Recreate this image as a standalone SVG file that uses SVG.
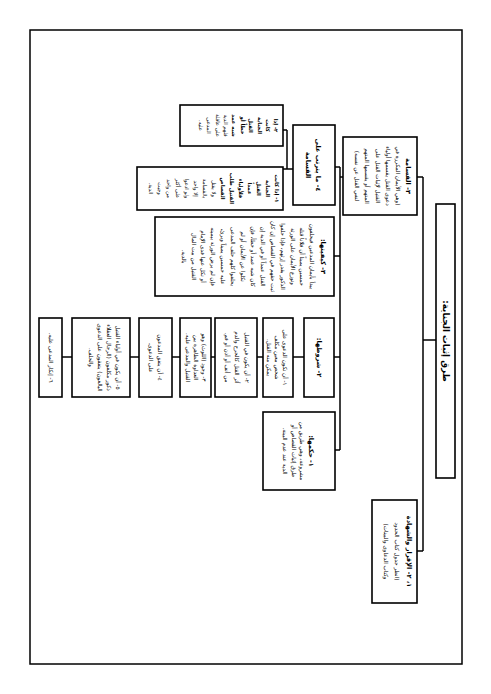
<svg xmlns="http://www.w3.org/2000/svg" width="491" height="694" viewBox="0 0 491 694">
<style>
.frame{fill:none;stroke:#000;stroke-width:1.5}
.box{fill:#fff;stroke:#000;stroke-width:1.6}
.con{fill:none;stroke:#000;stroke-width:1.5}
text{font-family:"DejaVu Sans",sans-serif;direction:rtl;text-anchor:middle;fill:#000}
.r{font-size:5.6px}
.b{font-size:6.6px;font-weight:bold}
.s{font-size:5.3px}
.sb{font-size:5.3px;font-weight:bold}
.t{font-size:8.8px;font-weight:bold}
</style>
<rect id="frame" class="frame" x="30" y="30" width="432" height="634"/>
<g id="connectors" class="con">
<path d="M423,340H436"/>
<path d="M423,177V551"/>
<path d="M417,177H423"/>
<path d="M417,551H423"/>
<path d="M340,177H343"/>
<path d="M340,167V450"/>
<path d="M335,167H340"/>
<path d="M334,256H340"/>
<path d="M334,357H340"/>
<path d="M335,450H340"/>
<path d="M293,357H304"/>
<path d="M257,357H263"/>
<path d="M211,357H215"/>
<path d="M172,357H180"/>
<path d="M130,357H139"/>
<path d="M62,357H72"/>
<path d="M287,130V169"/>
<path d="M283,130H287"/>
<path d="M283,169H293"/>
</g>
<g id="title">
<rect class="box" x="436" y="204" width="19" height="274"/>
<text class="t" transform="translate(442.8,341) rotate(90)">طرق إثبات الجناية:</text>
</g>
<g id="qasama">
<rect class="box" x="343" y="137" width="74" height="78"/>
<text class="b" transform="translate(406,176) rotate(90)">٣- القسامة</text>
<text class="r" transform="translate(396.3,176) rotate(90)">(وهي الأيمان المكررة في</text>
<text class="r" transform="translate(386.3,176) rotate(90)">دعوى القتل يقسمها أولياء</text>
<text class="r" transform="translate(375.8,176) rotate(90)">القتيل لإثبات القتل على</text>
<text class="r" transform="translate(365.3,176) rotate(90)">المتهم أو يقسمها المتهم</text>
<text class="r" transform="translate(354.8,176) rotate(90)">لنفي القتل عن نفسه)</text>
</g>
<g id="iqrar">
<rect class="box" x="372" y="500" width="45" height="103"/>
<text class="b" transform="translate(406.5,551.5) rotate(90)">١، ٢- الإقرار والشهادة</text>
<text class="r" transform="translate(395.3,551.5) rotate(90)">(انظر جدول كتاب الحدود</text>
<text class="r" transform="translate(384.3,551.5) rotate(90)">وكتاب الدعاوى والبينات)</text>
</g>
<g id="hukmuha">
<rect class="box" x="263" y="412" width="72" height="78"/>
<text class="b" transform="translate(309,451) rotate(90)">١- حكمها:</text>
<text class="r" transform="translate(300.3,451) rotate(90)">مشروعة، وهي طريق من</text>
<text class="r" transform="translate(291.8,451) rotate(90)">طرق إثبات القصاص أو</text>
<text class="r" transform="translate(283.3,451) rotate(90)">الدية عند عدم البينة.</text>
</g>
<g id="shurutuha">
<rect class="box" x="304" y="318" width="30" height="79"/>
<text class="b" transform="translate(317,357.5) rotate(90)">٢- شروطها:</text>
</g>
<g id="shart1">
<rect class="box" x="263" y="318" width="30" height="79"/>
<text class="r" transform="translate(283.3,357.5) rotate(90)">١- أن تكون الدعوى على</text>
<text class="r" transform="translate(275.3,357.5) rotate(90)">شخص معين مكلف</text>
<text class="r" transform="translate(267.3,357.5) rotate(90)">يمكن منه القتل.</text>
</g>
<g id="shart2">
<rect class="box" x="215" y="318" width="42" height="79"/>
<text class="r" transform="translate(245.3,357.5) rotate(90)">٢- أن يكون في القتيل</text>
<text class="r" transform="translate(235.3,357.5) rotate(90)">أثر القتل كالجرح والدم</text>
<text class="r" transform="translate(225.3,357.5) rotate(90)">من أنف أو أذن أو فم.</text>
</g>
<g id="shart3">
<rect class="box" x="180" y="318" width="31" height="79"/>
<text class="r" transform="translate(201.8,357.5) rotate(90)">٣- وجود (اللوث) وهو</text>
<text class="r" transform="translate(193.8,357.5) rotate(90)">العداوة الظاهرة بين</text>
<text class="r" transform="translate(185.8,357.5) rotate(90)">القتيل والمدعى عليه.</text>
</g>
<g id="shart4">
<rect class="box" x="139" y="318" width="33" height="79"/>
<text class="r" transform="translate(158.3,357.5) rotate(90)">٤- أن يتفق المدعون</text>
<text class="r" transform="translate(149.3,357.5) rotate(90)">على الدعوى.</text>
</g>
<g id="shart5">
<rect class="box" x="72" y="318" width="58" height="79"/>
<text class="r" transform="translate(115.8,357.5) rotate(90)">٥- أن يكون في أولياء القتيل</text>
<text class="r" transform="translate(106.8,357.5) rotate(90)">ذكور مكلفون (الرجال العقلاء</text>
<text class="r" transform="translate(97.8,357.5) rotate(90)">البالغون) يتفقون على الدعوى</text>
<text class="r" transform="translate(88.8,357.5) rotate(90)">والحلف.</text>
</g>
<g id="shart6">
<rect class="box" x="39" y="318" width="23" height="79"/>
<text class="r" transform="translate(48.8,357.5) rotate(90)">٦- إنكار المدعى عليه.</text>
</g>
<g id="kayfiyyatuha">
<rect class="box" x="155" y="217" width="179" height="79"/>
<text class="b" transform="translate(320.5,256.5) rotate(90)">٣- كيفيتها:</text>
<text class="r" transform="translate(310.3,256.5) rotate(90)">يبدأ بأيمان المدعين فيحلفون</text>
<text class="r" transform="translate(300.4,256.5) rotate(90)">خمسين يميناً أن فلاناً قتله</text>
<text class="r" transform="translate(290.5,256.5) rotate(90)">وتوزع الأيمان على الورثة</text>
<text class="r" transform="translate(280.6,256.5) rotate(90)">الذكور بقدر إرثهم، فإذا حلفوا</text>
<text class="r" transform="translate(270.7,256.5) rotate(90)">ثبت حقهم في القصاص إن كان</text>
<text class="r" transform="translate(260.8,256.5) rotate(90)">القتل عمداً أو في الدية إن</text>
<text class="r" transform="translate(250.9,256.5) rotate(90)">كان شبه عمد أو خطأ، فإن</text>
<text class="r" transform="translate(241,256.5) rotate(90)">نكلوا عن الأيمان أو لم</text>
<text class="r" transform="translate(231.1,256.5) rotate(90)">يحلفوا كلهم حلف المدعى</text>
<text class="r" transform="translate(221.2,256.5) rotate(90)">عليه خمسين يميناً وبرئ،</text>
<text class="r" transform="translate(211.3,256.5) rotate(90)">فإن لم يرض الورثة بيمينه</text>
<text class="r" transform="translate(201.4,256.5) rotate(90)">أو نكل عنها فدى الإمام</text>
<text class="r" transform="translate(191.5,256.5) rotate(90)">القتيل من بيت المال</text>
<text class="r" transform="translate(181.6,256.5) rotate(90)">بالدية.</text>
</g>
<g id="ma-yatarattab">
<rect class="box" x="293" y="125" width="42" height="80"/>
<text class="b" transform="translate(316,165) rotate(90)">٤- ما يترتب على</text>
<text class="b" transform="translate(306,165) rotate(90)">القسامة</text>
</g>
<g id="natija2">
<rect class="box" x="180" y="105" width="103" height="41"/>
<text class="sb" transform="translate(274.4,125.5) rotate(90)">٢- إذا</text>
<text class="sb" transform="translate(266,125.5) rotate(90)">كانت</text>
<text class="sb" transform="translate(257.6,125.5) rotate(90)">الجناية</text>
<text class="sb" transform="translate(249.2,125.5) rotate(90)">القتل</text>
<text class="sb" transform="translate(240.8,125.5) rotate(90)">خطأً أو</text>
<text class="sb" transform="translate(232.4,125.5) rotate(90)">شبه عمد</text>
<text class="s" transform="translate(224,125.5) rotate(90)">فلهم الدية</text>
<text class="s" transform="translate(215.6,125.5) rotate(90)">على عاقلة</text>
<text class="s" transform="translate(207.2,125.5) rotate(90)">المدعى</text>
<text class="s" transform="translate(198.8,125.5) rotate(90)">عليه.</text>
</g>
<g id="natija1">
<rect class="box" x="137" y="167" width="146" height="43"/>
<text class="sb" transform="translate(275.4,188.5) rotate(90)">١- إذا كانت</text>
<text class="sb" transform="translate(266.4,188.5) rotate(90)">الجناية</text>
<text class="sb" transform="translate(257.4,188.5) rotate(90)">القتل</text>
<text class="sb" transform="translate(248.4,188.5) rotate(90)">عمداً</text>
<text class="sb" transform="translate(239.4,188.5) rotate(90)">فلأولياء</text>
<text class="sb" transform="translate(230.4,188.5) rotate(90)">القتيل طلب</text>
<text class="sb" transform="translate(221.4,188.5) rotate(90)">القصاص</text>
<text class="s" transform="translate(212.4,188.5) rotate(90)">ولا يقتل</text>
<text class="s" transform="translate(203.4,188.5) rotate(90)">بالقسامة</text>
<text class="s" transform="translate(194.4,188.5) rotate(90)">إلا واحد</text>
<text class="s" transform="translate(185.4,188.5) rotate(90)">ولو ادعوا</text>
<text class="s" transform="translate(176.4,188.5) rotate(90)">على أكثر</text>
<text class="s" transform="translate(167.4,188.5) rotate(90)">من واحد</text>
<text class="s" transform="translate(158.4,188.5) rotate(90)">وجبت</text>
<text class="s" transform="translate(149.4,188.5) rotate(90)">الدية.</text>
</g>
</svg>
